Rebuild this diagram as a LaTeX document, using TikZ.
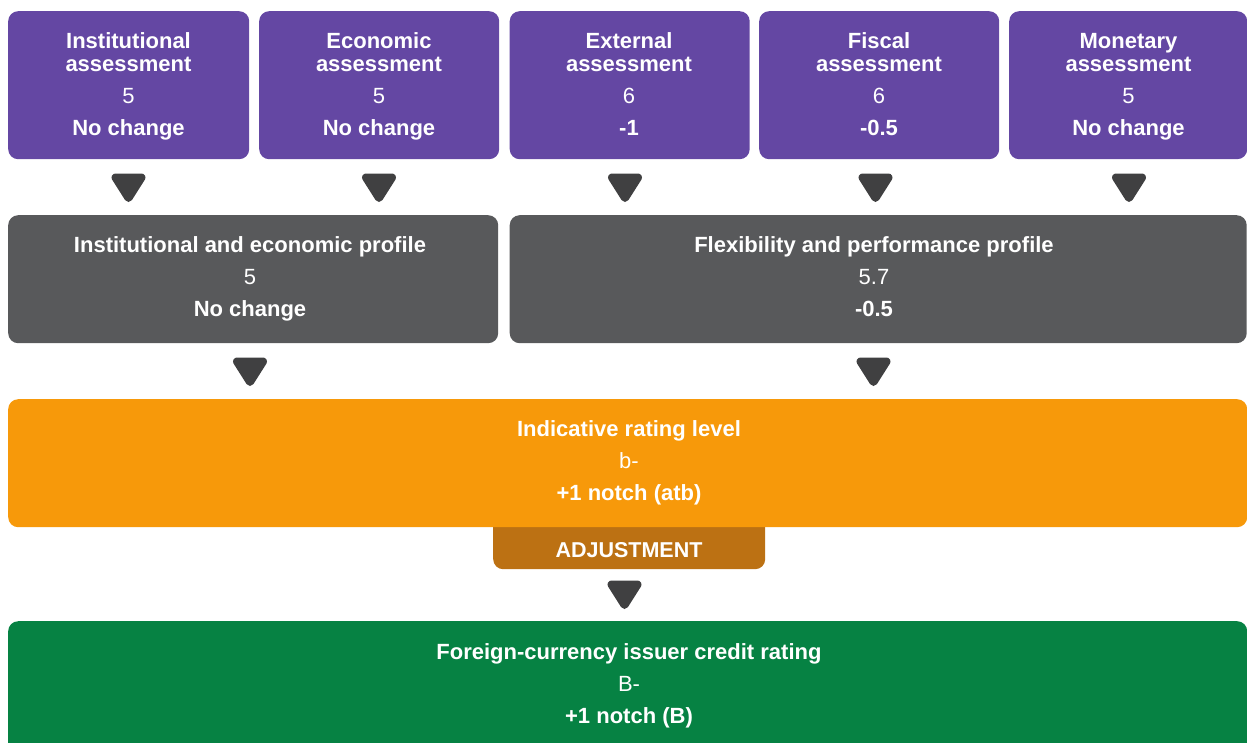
\documentclass[tikz,border=0pt]{standalone}
\usepackage{fontspec}
\setmainfont{Liberation Sans}
\usetikzlibrary{calc}

\definecolor{purplebox}{HTML}{6447A3}
\definecolor{greybox}{HTML}{58595B}
\definecolor{arrowgrey}{HTML}{404041}
\definecolor{orangebox}{HTML}{F7990A}
\definecolor{adjbox}{HTML}{BC7113}
\definecolor{greenbox}{HTML}{068243}

\tikzset{
  card/.style={rectangle, rounded corners=10pt, inner sep=0pt, anchor=north west, draw=none},
  head/.style={text=white, font=\fontsize{22}{26}\selectfont\bfseries, anchor=base, inner sep=0pt},
  val/.style={text=white, font=\fontsize{22}{26}\selectfont, anchor=base, inner sep=0pt},
  tabtext/.style={text=white, font=\fontsize{21.5}{26}\selectfont\bfseries, anchor=base, inner sep=0pt},
  % pointer with soft corners: a small triangle stroked with a wide round-joined pen
  downtri/.pic={\filldraw[arrowgrey, line width=8pt, line join=round]
      (-13,4.5) -- (13,4.5) -- (0,25) -- cycle;}
}

\begin{document}
\begin{tikzpicture}[x=1pt, y=-1pt]
  \useasboundingbox (0,0) rectangle (1247,742);
  \clip (0,0) rectangle (1247,742);

  % ---- five assessment cards ----
  \node[card, fill=purplebox, minimum width=241pt, minimum height=148pt] (inst) at (8,11) {};
  \node[card, fill=purplebox, minimum width=240pt, minimum height=148pt] (econ) at (259,11) {};
  \node[card, fill=purplebox, minimum width=240pt, minimum height=148pt] (ext)  at (509.5,11) {};
  \node[card, fill=purplebox, minimum width=240pt, minimum height=148pt] (fisc) at (759,11) {};
  \node[card, fill=purplebox, minimum width=238pt, minimum height=148pt] (mon)  at (1009,11) {};

  \node[head] (inst-a) at (128.5,48) {Institutional};
  \node[head] (inst-b) at (128.5,71) {assessment};
  \node[val]  (inst-c) at (128.5,103) {5};
  \node[head] (inst-d) at (128.5,135) {No change};

  \node[head] (econ-a) at (379,48) {Economic};
  \node[head] (econ-b) at (379,71) {assessment};
  \node[val]  (econ-c) at (379,103) {5};
  \node[head] (econ-d) at (379,135) {No change};

  \node[head] (ext-a) at (629,48) {External};
  \node[head] (ext-b) at (629,71) {assessment};
  \node[val]  (ext-c) at (629,103) {6};
  \node[head] (ext-d) at (629,135) {-1};

  \node[head] (fisc-a) at (879,48) {Fiscal};
  \node[head] (fisc-b) at (879,71) {assessment};
  \node[val]  (fisc-c) at (879,103) {6};
  \node[head] (fisc-d) at (879,135) {-0.5};

  \node[head] (mon-a) at (1128.5,48) {Monetary};
  \node[head] (mon-b) at (1128.5,71) {assessment};
  \node[val]  (mon-c) at (1128.5,103) {5};
  \node[head] (mon-d) at (1128.5,135) {No change};

  % arrows from the assessments to the profiles
  \pic at (128.5,173) {downtri};
  \pic at (379,173) {downtri};
  \pic at (625,173) {downtri};
  \pic at (875.5,173) {downtri};
  \pic at (1129,173) {downtri};

  % ---- two profile cards ----
  \node[card, fill=greybox, minimum width=490pt, minimum height=128pt] (iep) at (8,215) {};
  \node[card, fill=greybox, minimum width=737pt, minimum height=128pt] (fpp) at (509.5,215) {};

  \node[head] (iep-a) at (250,252) {Institutional and economic profile};
  \node[val]  (iep-b) at (250,284) {5};
  \node[head] (iep-c) at (250,316) {No change};

  \node[head] (fpp-a) at (874,252) {Flexibility and performance profile};
  \node[val]  (fpp-b) at (874,284) {5.7};
  \node[head] (fpp-c) at (874,316) {-0.5};

  \pic at (250,357) {downtri};
  \pic at (873.5,357) {downtri};

  % ---- adjustment tab (its top is hidden under the rating card) ----
  \node[card, fill=adjbox, minimum width=272pt, minimum height=60pt] (adj) at (493,509) {};

  % ---- indicative rating card ----
  \node[card, fill=orangebox, minimum width=1239pt, minimum height=128pt] (irl) at (8,399) {};
  \node[head] (irl-a) at (629,436) {Indicative rating level};
  \node[val]  (irl-b) at (629,468) {b-};
  \node[head] (irl-c) at (629,500) {+1 notch (atb)};

  \node[tabtext] (adj-t) at (629,557) {ADJUSTMENT};

  \pic at (624.5,580) {downtri};

  % ---- final rating card ----
  \node[card, fill=greenbox, minimum width=1239pt, minimum height=140pt] (fcr) at (8,621) {};
  \node[head] (fcr-a) at (629,659) {Foreign-currency issuer credit rating};
  \node[val]  (fcr-b) at (629,691) {B-};
  \node[head] (fcr-c) at (629,723) {+1 notch (B)};
\end{tikzpicture}
\end{document}
